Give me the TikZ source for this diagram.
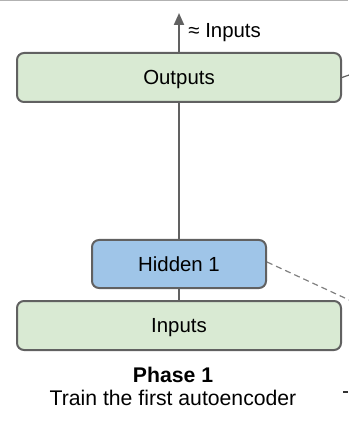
\documentclass[tikz,border=0pt]{standalone}
\usepackage{fontspec}
\setmainfont{Liberation Sans}
\usetikzlibrary{arrows.meta}
\definecolor{layergreen}{HTML}{D9EAD3}
\definecolor{layerblue}{HTML}{9FC5E8}
\definecolor{edgegray}{HTML}{616161}

\begin{document}
\begin{tikzpicture}[x=0.5pt,y=-0.5pt,
		font=\fontsize{10.2}{12}\selectfont,
		layer/.style={draw=edgegray,line width=1pt,rounded corners=3.5pt,inner sep=0pt,
			text height=7.3pt,text depth=0pt},
		link/.style={draw=edgegray,line width=1pt},
		caption/.style={anchor=base,font=\fontsize{10.6}{12}\selectfont}]
	\useasboundingbox (0,0) rectangle (348,421);
	% separator rule at the top
	\draw[color=black!30,line width=1pt] (0,0.5)--(348,0.5);

	% the three layers
	\node[layer,fill=layergreen,minimum width=162pt,minimum height=24.5pt] (outputs) at (179,77.5) {Outputs};
	\node[layer,fill=layerblue,minimum width=87pt,minimum height=24pt] (hidden) at (179,264) {Hidden 1};
	\node[layer,fill=layergreen,minimum width=162pt,minimum height=24.5pt] (inputs) at (179,325.5) {Inputs};

	\coordinate (top) at (179,13);
	\coordinate (next) at (360,305);
	\coordinate (side) at (352,74);

	\draw[link] (inputs.north)--(hidden.south);
	\draw[link] (hidden.north)--(outputs.south);
	\draw[link,-{Triangle[length=6pt,width=5pt]}] (outputs.north)--(top);
	\node[anchor=base west,inner sep=0pt] (approx) at (188,38) {≈ Inputs};

	% links running off to the next phase
	\draw[dashed,dash pattern=on 3pt off 2pt,color=gray,line width=0.6pt] ([yshift=1pt]hidden.east)--(next);
	\draw[color=edgegray,line width=0.6pt] (outputs.east)--(side);

	% caption
	\node[caption,font=\fontsize{10.6}{12}\selectfont\bfseries] (phase) at (173,382) {Phase 1};
	\node[caption] (task) at (173,405) {Train the first autoencoder};
	% bar of the next caption, cut by the edge
	\coordinate (barl) at (343,392);
	\coordinate (barr) at (348,392);
	\draw[color=black!80,line width=0.8pt] (barl)--(barr);
\end{tikzpicture}
\end{document}
